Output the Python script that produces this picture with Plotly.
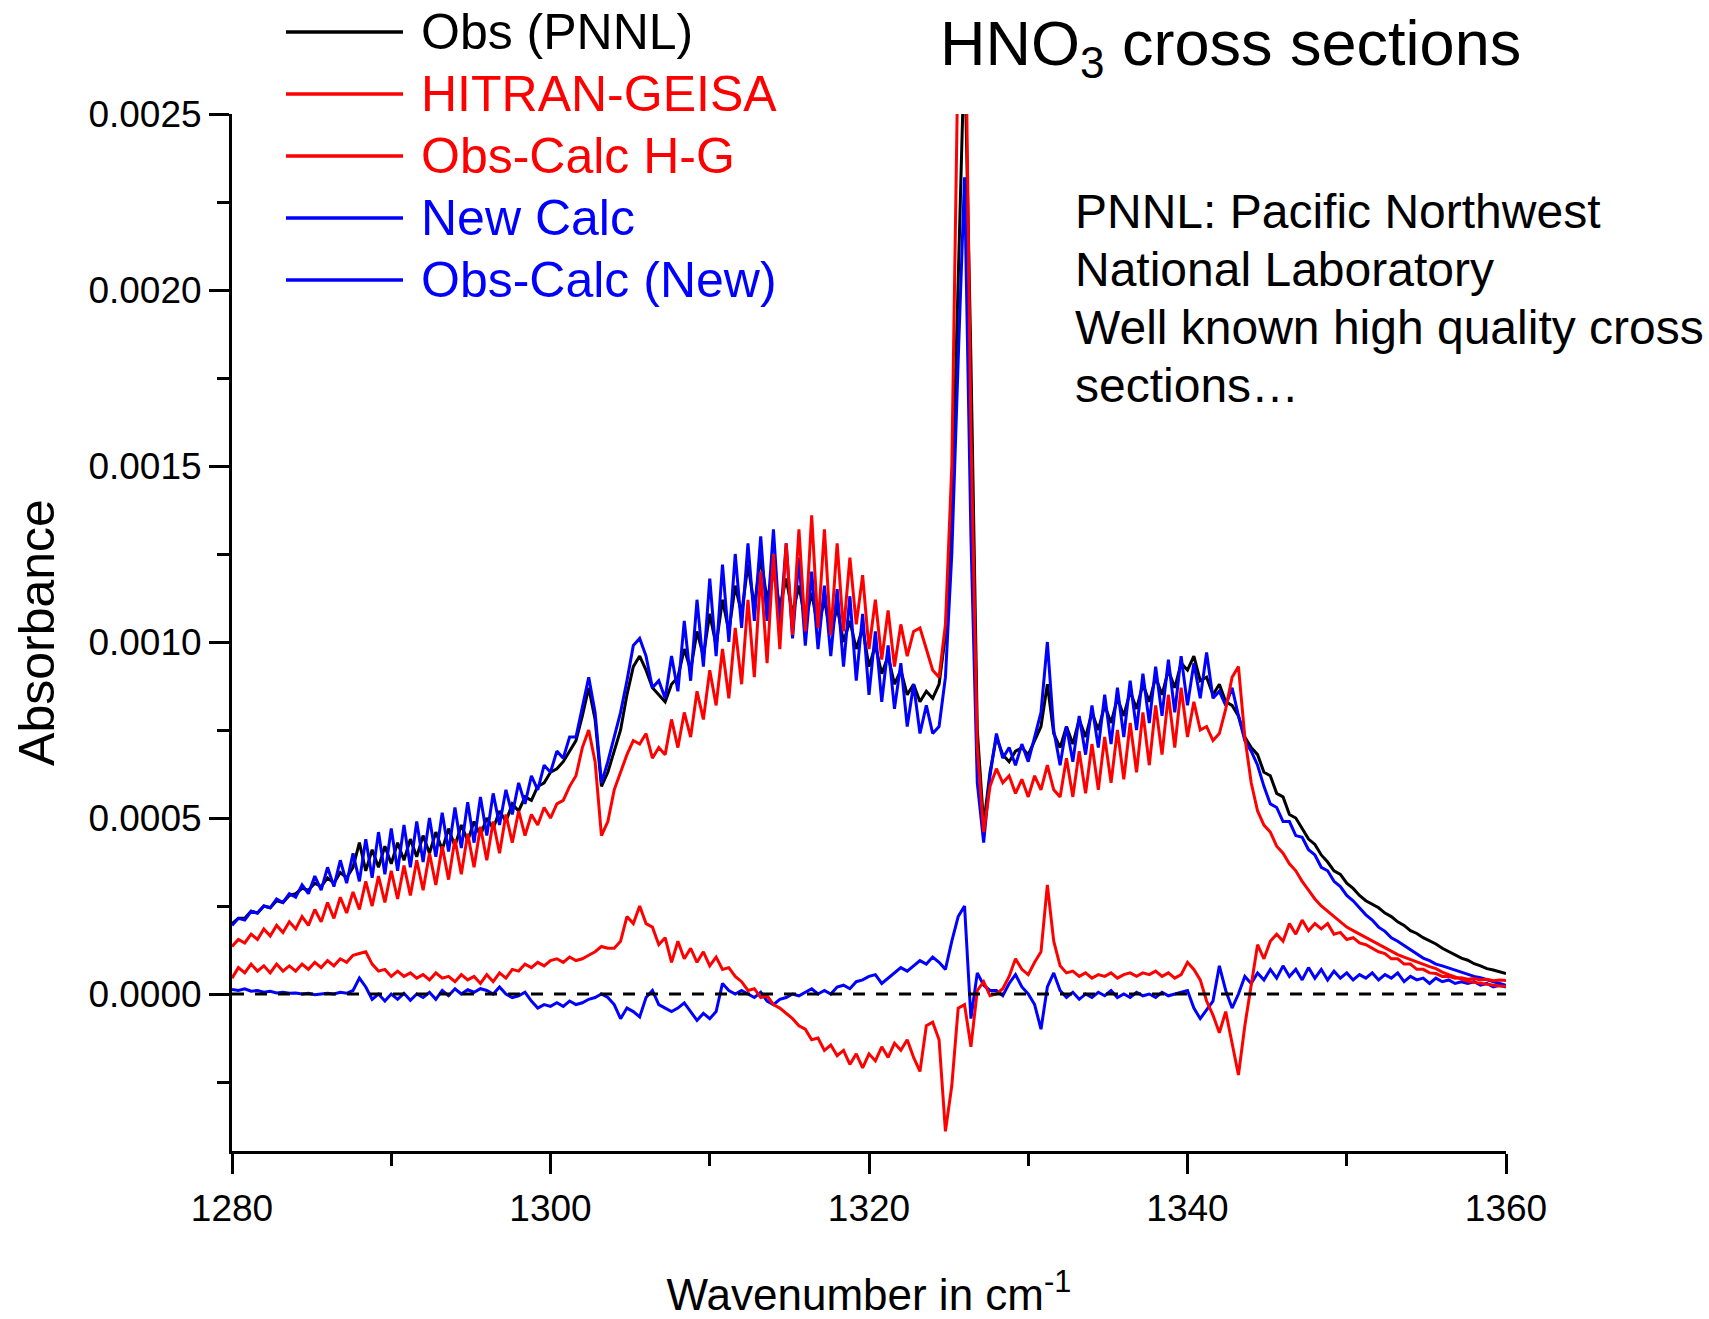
import numpy as np
import plotly.graph_objects as go

# Sampling grid of the spectra (cm-1), 0.4 cm-1 step
wavenumber = np.round(np.arange(1280.0, 1360.0001, 0.4), 1)

# All absorbance values below are in units of 1e-4
obs_pnnl = [
    2.0, 2.15, 2.15, 2.35, 2.3, 2.5, 2.45, 2.65, 2.6, 2.8,
    2.85, 3.0, 2.95, 3.15, 3.05, 3.3, 3.15, 3.45, 3.3, 3.6,
    4.3, 3.5, 4.1, 3.6, 4.2, 3.7, 4.3, 3.8, 4.4, 3.9,
    4.5, 4.0, 4.6, 4.1, 4.7, 4.2, 4.8, 4.35, 4.9, 4.5,
    5.0, 4.7, 5.2, 4.9, 5.4, 5.2, 5.6, 5.5, 5.9, 6.0,
    6.3, 6.4, 6.6, 6.9, 7.2, 7.9, 8.7, 7.8, 5.9, 6.3,
    6.9, 7.5, 8.5, 9.3, 9.6, 9.2, 8.7, 8.5, 8.3, 8.8,
    9.0, 9.8, 9.2, 10.3, 9.6, 10.8, 9.9, 11.2, 10.3, 11.6,
    10.8, 12.2, 11.0, 12.4, 11.2, 12.0, 11.0, 11.8, 10.8, 11.6,
    10.6, 11.4, 10.4, 11.2, 10.2, 11.0, 10.0, 10.6, 9.8, 10.4,
    9.3, 9.9, 9.1, 9.6, 8.8, 9.2, 8.5, 8.8, 8.3, 8.6,
    8.4, 8.8, 10.2, 13.5, 20.0, 27.0, 18.0, 7.5, 4.8, 6.3,
    7.3, 6.8, 6.6, 6.9, 7.0, 6.8, 7.2, 7.6, 8.8, 7.4,
    7.0, 7.6, 7.1, 7.8, 7.3, 8.0, 7.5, 8.2, 7.7, 8.4,
    7.9, 8.6, 8.1, 8.8, 8.3, 9.0, 8.5, 9.2, 8.7, 9.4,
    9.2, 9.6, 8.9, 9.0, 8.5, 8.8, 8.3, 8.2, 7.9, 7.3,
    7.0, 6.8, 6.3, 6.2, 5.7, 5.6, 5.1, 5.0, 4.7, 4.4,
    4.25, 3.95, 3.75, 3.5, 3.4, 3.15, 3.0, 2.8, 2.65, 2.55,
    2.45, 2.3, 2.2, 2.05, 1.95, 1.8, 1.72, 1.6, 1.52, 1.42,
    1.3, 1.2, 1.12, 1.02, 0.96, 0.86, 0.8, 0.72, 0.68, 0.62,
    0.58,
]

hitran_geisa = [
    1.35, 1.55, 1.45, 1.7, 1.55, 1.85, 1.65, 1.95, 1.75, 2.05,
    1.85, 2.2, 1.95, 2.4, 2.05, 2.6, 2.15, 2.75, 2.3, 2.9,
    2.4, 3.2, 2.5, 3.35, 2.6, 3.5, 2.7, 3.65, 2.8, 3.8,
    2.95, 4.0, 3.1, 4.2, 3.25, 4.4, 3.4, 4.55, 3.6, 4.75,
    3.8, 4.9, 4.0, 5.1, 4.3, 5.2, 4.5, 5.1, 4.8, 5.3,
    5.0, 5.4, 5.5, 5.9, 6.2, 7.0, 7.5, 6.6, 4.5, 4.9,
    5.8, 6.3, 6.8, 7.2, 7.1, 7.4, 6.7, 7.0, 6.8, 7.8,
    7.0, 8.0, 7.3, 8.6, 7.8, 9.2, 8.2, 9.8, 8.4, 10.4,
    8.8, 11.2, 9.0, 12.0, 9.4, 12.5, 9.8, 12.8, 10.2, 13.2,
    10.3, 13.6, 10.4, 13.2, 10.2, 12.8, 10.3, 12.4, 10.5, 11.9,
    9.8, 11.2, 9.5, 10.9, 9.3, 10.5, 9.6, 10.3, 10.4, 9.8,
    9.2, 9.0, 10.5, 15.0, 27.0, 30.0, 16.0, 7.0, 4.6, 5.9,
    6.4, 6.0, 6.2, 5.7, 6.1, 5.6, 6.2, 5.8, 6.5, 5.8,
    5.6, 6.7, 5.6, 6.9, 5.7, 7.1, 5.8, 7.3, 6.0, 7.5,
    6.1, 7.7, 6.3, 8.0, 6.5, 8.2, 6.8, 8.5, 7.0, 8.7,
    7.3, 8.3, 7.5, 7.6, 7.2, 7.4, 8.1, 9.0, 9.3, 7.3,
    6.0, 5.2, 4.8, 4.6, 4.2, 4.0, 3.7, 3.5, 3.2, 2.95,
    2.7, 2.5, 2.35, 2.2, 2.05, 1.9, 1.8, 1.7, 1.6, 1.5,
    1.4, 1.3, 1.2, 1.12, 1.05, 0.98, 0.9, 0.85, 0.78, 0.72,
    0.62, 0.55, 0.48, 0.42, 0.36, 0.33, 0.3, 0.27, 0.25, 0.23,
    0.22,
]

obs_calc_hg = [
    0.45, 0.75, 0.6, 0.85, 0.65, 0.8, 0.6, 0.85, 0.65, 0.8,
    0.65, 0.85, 0.7, 0.9, 0.75, 0.95, 0.8, 1.0, 0.9, 1.1,
    1.15, 1.2, 0.85, 0.65, 0.7, 0.5, 0.65, 0.5, 0.6, 0.45,
    0.55, 0.4, 0.6, 0.45, 0.5, 0.35, 0.55, 0.4, 0.5, 0.3,
    0.55, 0.35, 0.6, 0.45, 0.7, 0.65, 0.85, 0.75, 0.9, 0.8,
    0.95, 1.0, 0.9, 1.05, 0.95, 1.0, 1.1, 1.2, 1.35, 1.3,
    1.3, 1.5, 2.2, 2.0, 2.5, 2.0, 1.9, 1.4, 1.6, 0.9,
    1.5, 1.0, 1.3, 0.9, 1.2, 0.8, 1.05, 0.7, 0.75, 0.5,
    0.35, 0.1, 0.15, -0.1, -0.05, -0.3, -0.4, -0.55, -0.7, -0.9,
    -1.0, -1.3, -1.25, -1.6, -1.45, -1.75, -1.6, -2.0, -1.7, -2.1,
    -1.7, -1.9, -1.5, -1.8, -1.4, -1.6, -1.3, -1.8, -2.2, -0.9,
    -0.8, -1.3, -3.9, -2.6, -0.4, -0.3, -1.5, 0.1, 0.35, -0.05,
    0.0, 0.15, 0.5, 1.0, 0.7, 0.55, 0.9, 1.2, 3.1, 1.5,
    0.8, 0.6, 0.65, 0.5, 0.6, 0.45, 0.55, 0.5, 0.6, 0.45,
    0.55, 0.6, 0.5, 0.6, 0.55, 0.65, 0.5, 0.6, 0.45, 0.55,
    0.9, 0.7, 0.4, -0.2, -0.6, -1.1, -0.5, -1.4, -2.3, -0.9,
    0.3, 1.4, 1.0, 1.5, 1.7, 1.5, 2.0, 1.7, 2.1, 1.8,
    2.0, 1.85, 2.0, 1.7, 1.75, 1.55, 1.6, 1.45, 1.4, 1.3,
    1.2, 1.15, 1.0, 1.0, 0.85, 0.85, 0.7, 0.7, 0.6, 0.58,
    0.5, 0.5, 0.45, 0.46, 0.42, 0.44, 0.4, 0.42, 0.38, 0.4,
    0.38,
]

new_calc = [
    1.95, 2.15, 2.1, 2.35, 2.3, 2.5, 2.45, 2.7, 2.6, 2.85,
    2.75, 3.1, 2.85, 3.35, 2.95, 3.6, 3.05, 3.8, 3.15, 4.0,
    3.2, 4.4, 3.3, 4.6, 3.4, 4.7, 3.5, 4.8, 3.6, 4.9,
    3.75, 5.0, 3.9, 5.15, 4.05, 5.3, 4.15, 5.45, 4.3, 5.6,
    4.5, 5.7, 4.8, 5.8, 5.1, 6.0, 5.4, 6.2, 5.8, 6.5,
    6.3, 6.9, 6.7, 7.3, 7.3, 8.2, 9.0, 8.0, 6.0, 6.6,
    7.3, 8.0, 8.9, 9.9, 10.1, 9.6, 8.7, 8.9, 8.4, 9.6,
    8.6, 10.6, 8.9, 11.2, 9.3, 11.8, 9.6, 12.2, 10.0, 12.5,
    10.4, 12.8, 10.6, 13.0, 10.6, 13.2, 10.4, 12.8, 10.1, 12.4,
    9.9, 12.0, 9.8, 11.6, 9.6, 11.5, 9.3, 11.3, 8.9, 10.8,
    8.5, 10.3, 8.3, 9.9, 8.1, 9.4, 7.6, 8.8, 7.4, 8.2,
    7.4, 7.6, 9.0, 12.5, 18.0, 23.2, 13.0, 6.0, 4.3, 6.2,
    7.4, 6.7, 7.0, 6.5, 7.1, 6.6, 7.3, 8.0, 10.0, 7.5,
    6.5, 7.6, 6.6, 7.9, 6.8, 8.2, 7.0, 8.5, 7.1, 8.7,
    7.3, 8.9, 7.5, 9.1, 7.7, 9.3, 7.9, 9.5, 8.0, 9.6,
    8.2, 9.4, 8.4, 9.7, 8.4, 8.6, 8.2, 8.7, 7.9, 7.2,
    6.9, 6.5, 5.9, 5.4, 5.3, 4.9, 4.9, 4.5, 4.45, 4.1,
    3.95, 3.6, 3.5, 3.2, 3.05, 2.8, 2.65, 2.45, 2.25, 2.1,
    1.9, 1.78, 1.6, 1.5, 1.38, 1.25, 1.15, 1.02, 0.95, 0.85,
    0.8, 0.74, 0.66, 0.6, 0.54, 0.5, 0.46, 0.4, 0.35, 0.3,
    0.25,
]

obs_calc_new = [
    0.13, 0.1, 0.15, 0.08, 0.1, 0.05, 0.08, 0.03, 0.05, 0.02,
    0.03, 0.0, 0.02, -0.02, 0.0, 0.02, 0.0, 0.05, 0.02, 0.1,
    0.45, 0.2, -0.15, 0.0, -0.2, 0.0, -0.15, 0.02, -0.18, 0.0,
    -0.1, 0.05, -0.15, 0.1, -0.05, 0.15, 0.0, 0.12, 0.05, 0.15,
    0.1, 0.0, 0.2, 0.0, -0.1, -0.05, 0.05, -0.2, -0.4, -0.3,
    -0.35, -0.25, -0.35, -0.2, -0.3, -0.25, -0.15, -0.1, 0.0, -0.1,
    -0.3, -0.7, -0.4, -0.5, -0.65, -0.1, 0.1, -0.3, -0.4, -0.5,
    -0.4, -0.25, -0.5, -0.75, -0.55, -0.7, -0.5, 0.3, 0.1, 0.0,
    0.1, 0.0, -0.1, 0.05, -0.2, -0.3, -0.15, -0.1, 0.0, -0.05,
    0.05, 0.15, 0.0, 0.1, 0.0, 0.2, 0.25, 0.15, 0.35, 0.4,
    0.5, 0.55, 0.3, 0.45, 0.6, 0.75, 0.65, 0.8, 0.95, 0.85,
    1.05, 0.9, 0.7, 1.5, 2.2, 2.5, -0.7, 0.6, 0.25, 0.1,
    0.1, -0.05, 0.3, 0.55, 0.2, 0.0, -0.3, -1.0, 0.2, 0.6,
    0.1, -0.1, 0.05, -0.15, 0.0, -0.1, 0.05, -0.05, 0.1, -0.1,
    0.0, -0.1, 0.05, -0.05, 0.0, -0.1, 0.05, -0.05, 0.0, 0.05,
    0.1, -0.4, -0.7, -0.45, -0.2, 0.8, 0.1, -0.4, 0.0, 0.5,
    0.3, 0.6, 0.4, 0.7, 0.45, 0.8, 0.5, 0.7, 0.4, 0.75,
    0.45, 0.7, 0.4, 0.65, 0.45, 0.6, 0.4, 0.55, 0.45, 0.6,
    0.4, 0.55, 0.45, 0.6, 0.35, 0.5, 0.4, 0.45, 0.3, 0.45,
    0.35, 0.4, 0.3, 0.35, 0.3, 0.35, 0.25, 0.3, 0.2, 0.25,
    0.2,
]

series_names = ["Obs (PNNL)", "HITRAN-GEISA", "Obs-Calc H-G", "New Calc", "Obs-Calc (New)"]
series_colors = ["#000000", "#ff0000", "#ff0000", "#0000ff", "#0000ff"]
series_values = [obs_pnnl, hitran_geisa, obs_calc_hg, new_calc, obs_calc_new]
UNIT = 1e-4
for v in series_values:
    assert len(v) == len(wavenumber), len(v)

note_lines = ["PNNL: Pacific Northwest", "National Laboratory",
              "Well known high quality cross", "sections…"]

FONT = "Arial, 'Liberation Sans', sans-serif"
W, H = 1709, 1319
L, R, T, B = 232, 203, 114, 168


def px_x(p):
    return (p - L) / (W - L - R)


def px_y(p):
    return (H - B - p) / (H - T - B)


fig = go.Figure()

# draw order: observation, new calc, then HITRAN on top
draw_order = [0, 3, 4, 1, 2]
for i in draw_order:
    fig.add_trace(go.Scatter(
        x=wavenumber, y=np.array(series_values[i]) * UNIT, mode="lines",
        name=series_names[i], line=dict(color=series_colors[i], width=3),
        showlegend=False,
    ))

fig.add_hline(y=0, line=dict(color="black", width=3, dash="12px,11px"))

# custom legend (long line samples, coloured text)
legend_rows = [32, 94, 156, 218, 280]
for name, color, row in zip(series_names, series_colors, legend_rows):
    fig.add_shape(type="line", xref="paper", yref="paper",
                  x0=px_x(286), x1=px_x(403), y0=px_y(row), y1=px_y(row),
                  line=dict(color=color, width=3.5))
    fig.add_annotation(xref="paper", yref="paper", x=px_x(419), y=px_y(row),
                       xanchor="left", yanchor="middle", showarrow=False,
                       text=name, font=dict(family=FONT, size=50, color=color))

# explanatory note, one annotation per line
note_rows = [212, 270, 328, 386]
for line_text, row in zip(note_lines, note_rows):
    fig.add_annotation(
        xref="paper", yref="paper", x=px_x(1073), y=px_y(row),
        xanchor="left", yanchor="middle", align="left", showarrow=False,
        text=line_text, font=dict(family=FONT, size=48, color="black"),
    )

fig.update_layout(
    width=W, height=H,
    margin=dict(l=L, r=R, t=T, b=B, autoexpand=False),
    paper_bgcolor="white", plot_bgcolor="white",
    font=dict(family=FONT, color="black"),
    title=dict(text="HNO<sub>3</sub> cross sections", xref="paper", x=px_x(940),
               xanchor="left", yref="container", y=1 - 21 / H, yanchor="top",
               font=dict(family=FONT, size=63, color="black")),
    showlegend=False,
)

fig.update_xaxes(
    range=[1280, 1360], tick0=1280, dtick=20, showgrid=False, zeroline=False,
    showline=True, linecolor="black", linewidth=3,
    ticks="outside", ticklen=20, tickwidth=3, tickcolor="black",
    minor=dict(dtick=10, ticks="outside", ticklen=12, tickwidth=3, tickcolor="black"),
    tickfont=dict(family=FONT, size=37, color="black"), ticklabelstandoff=3,
    title=dict(text="Wavenumber in cm<sup>-1</sup>", standoff=52,
               font=dict(family=FONT, size=44, color="black")),
)
fig.update_yaxes(
    range=[-0.000446, 0.0025], tick0=0, dtick=0.0005, tickformat=".4f",
    showgrid=False, zeroline=False,
    showline=True, linecolor="black", linewidth=3,
    ticks="outside", ticklen=20, tickwidth=3, tickcolor="black",
    minor=dict(dtick=0.00025, ticks="outside", ticklen=12, tickwidth=3, tickcolor="black"),
    tickfont=dict(family=FONT, size=37, color="black"), ticklabelstandoff=0,
    title=dict(text="Absorbance", standoff=18,
               font=dict(family=FONT, size=50, color="black")),
)

fig.write_html("out.html")
